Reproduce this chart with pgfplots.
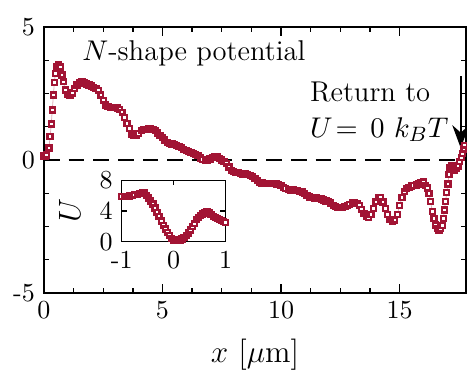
\documentclass[border=0pt]{standalone}
\usepackage{pgfplots}
\pgfplotsset{compat=1.18}
\usepackage{pgfplotstable}
\usetikzlibrary{calc,arrows.meta}
\definecolor{crim}{RGB}{162,20,52}

\pgfplotstableread{
x y
0.00 0.15
0.05 0.12
0.10 0.19
0.21 0.45
0.26 0.88
0.31 1.35
0.35 1.88
0.40 2.44
0.44 2.92
0.48 3.26
0.55 3.50
0.62 3.57
0.70 3.50
0.76 3.20
0.82 2.94
0.90 2.63
1.00 2.46
1.10 2.44
1.20 2.52
1.30 2.70
1.40 2.82
1.50 2.92
1.60 2.95
1.70 2.90
1.80 2.86
1.90 2.82
2.00 2.78
2.10 2.74
2.20 2.70
2.30 2.62
2.40 2.45
2.50 2.25
2.60 2.07
2.70 2.00
2.80 1.98
2.90 1.98
3.00 1.97
3.10 1.96
3.20 1.90
3.30 1.80
3.40 1.60
3.50 1.38
3.60 1.18
3.70 0.98
3.80 0.92
3.90 0.93
4.00 1.00
4.10 1.10
4.20 1.14
4.30 1.16
4.40 1.18
4.50 1.18
4.60 1.15
4.70 1.10
4.80 1.02
4.90 0.92
5.00 0.85
5.10 0.75
5.20 0.65
5.30 0.62
5.40 0.60
5.50 0.58
5.60 0.55
5.70 0.52
5.80 0.46
5.90 0.40
6.00 0.36
6.10 0.32
6.20 0.28
6.30 0.24
6.40 0.20
6.50 0.16
6.60 0.08
6.70 0.02
6.80 0.00
6.90 0.00
7.00 0.04
7.10 0.10
7.20 0.14
7.30 0.12
7.40 0.06
7.50 0.00
7.60 -0.06
7.70 -0.14
7.80 -0.26
7.90 -0.38
8.00 -0.44
8.10 -0.46
8.20 -0.48
8.30 -0.50
8.40 -0.52
8.50 -0.53
8.60 -0.55
8.70 -0.58
8.80 -0.62
8.90 -0.70
9.00 -0.78
9.10 -0.84
9.20 -0.86
9.30 -0.87
9.40 -0.88
9.50 -0.88
9.60 -0.87
9.70 -0.88
9.80 -0.90
9.90 -0.92
10.00 -0.96
10.10 -1.02
10.20 -1.08
10.30 -1.12
10.40 -1.13
10.50 -1.13
10.60 -1.14
10.70 -1.15
10.80 -1.17
10.90 -1.20
11.00 -1.26
11.10 -1.33
11.20 -1.39
11.30 -1.42
11.40 -1.43
11.50 -1.43
11.60 -1.44
11.70 -1.46
11.80 -1.50
11.90 -1.54
12.00 -1.57
12.10 -1.62
12.20 -1.70
12.30 -1.76
12.40 -1.78
12.50 -1.78
12.60 -1.78
12.70 -1.76
12.80 -1.72
12.90 -1.66
13.00 -1.62
13.10 -1.60
13.20 -1.64
13.30 -1.72
13.40 -1.85
13.50 -2.00
13.60 -2.10
13.70 -2.15
13.80 -2.05
13.90 -1.82
14.00 -1.55
14.10 -1.40
14.20 -1.40
14.30 -1.58
14.40 -1.82
14.50 -2.05
14.60 -2.24
14.70 -2.32
14.80 -2.26
14.90 -2.05
15.00 -1.72
15.10 -1.40
15.20 -1.18
15.30 -1.08
15.40 -1.02
15.50 -0.98
15.60 -0.96
15.70 -0.94
15.80 -0.90
15.90 -0.84
16.00 -0.82
16.10 -0.95
16.17 -1.05
16.24 -1.25
16.31 -1.57
16.38 -1.94
16.45 -2.19
16.52 -2.44
16.59 -2.58
16.66 -2.63
16.73 -2.58
16.80 -2.45
16.85 -2.19
16.89 -1.88
16.94 -1.55
16.99 -1.22
17.04 -0.90
17.08 -0.55
17.12 -0.30
17.18 -0.20
17.25 -0.30
17.32 -0.38
17.40 -0.30
17.47 -0.22
17.53 -0.05
17.60 0.10
17.66 0.25
17.71 0.42
17.74 0.56
}\mainData

\pgfplotstableread{
x y
-1.00 5.85
-0.95 5.88
-0.90 5.92
-0.85 5.96
-0.80 6.02
-0.75 6.10
-0.70 6.18
-0.65 6.30
-0.60 6.40
-0.56 6.32
-0.52 6.05
-0.48 5.70
-0.44 5.30
-0.40 4.90
-0.36 4.40
-0.32 3.80
-0.28 3.25
-0.24 2.70
-0.20 2.15
-0.16 1.65
-0.12 1.20
-0.08 0.80
-0.04 0.45
0.00 0.25
0.04 0.15
0.08 0.15
0.12 0.22
0.16 0.38
0.20 0.60
0.24 0.85
0.28 1.15
0.32 1.55
0.36 1.95
0.40 2.40
0.44 2.85
0.48 3.15
0.52 3.40
0.56 3.60
0.60 3.80
0.64 3.88
0.68 3.75
0.72 3.50
0.76 3.30
0.80 3.12
0.84 3.00
0.88 2.90
0.92 2.80
0.96 2.65
1.00 2.50
}\insetData

\begin{document}
\begin{tikzpicture}
\pgfplotsset{
  datastyle/.style={draw=crim!35, line width=0.3pt, mark=square*,
    mark size=0.95pt, mark options={draw=crim, fill=white, line width=0.9pt, solid}},
}
\begin{axis}[
  name=main,
  scale only axis,
  width=162.3pt, height=102.3pt,
  xmin=0, xmax=17.8, ymin=-5, ymax=5,
  xtick={0,5,10,15},
  ytick={-5,0,5}, yticklabels={-5,0,5},
  minor x tick num=3, minor y tick num=3,
  major tick length=3.3pt, minor tick length=2pt,
  axis line style={line width=0.5pt},
  every tick/.style={black, line width=0.5pt},
  tick label style={font=\normalsize},
  xlabel={$x$ [$\mu$m]},
  xlabel style={font=\large, yshift=-1pt},
]
\addplot[black, line width=0.6pt, dash pattern=on 6pt off 3.5pt] coordinates {(0,0) (17.8,0)};
\addplot[datastyle] table[x=x,y=y] {\mainData};
\node[anchor=base west, font=\fontsize{11}{13}\selectfont, inner sep=0pt] at (axis cs:1.6,3.76) {$N$-shape potential};
\node[anchor=base west, font=\fontsize{11}{13}\selectfont, inner sep=0pt] at (axis cs:11.2,2.19) {Return to};
\node[anchor=base west, font=\fontsize{11}{13}\selectfont, inner sep=0pt] at (axis cs:11.2,0.86) {$U\!=\,0\ k_BT$};
\draw[-{Stealth[length=8.8pt,width=6.5pt]}, line width=0.8pt] (axis cs:17.58,3.15) -- (axis cs:17.58,0.45);
\end{axis}
\begin{axis}[
  at={($(main.south west)+(29.9pt,19.7pt)$)}, anchor=south west,
  scale only axis,
  width=40pt, height=23.7pt,
  xmin=-1, xmax=1, ymin=0, ymax=8,
  xtick={-1,0,1}, xticklabels={-1,0,1},
  ytick={0,4,8},
  major tick length=2pt,
  axis line style={line width=0.5pt},
  every tick/.style={black, line width=0.5pt},
  axis background/.style={fill=white},
  tick label style={font=\normalsize},
  ylabel={$U$},
  every axis y label/.style={at={(axis description cs:-0.5,0.5)}, rotate=90, anchor=center, font=\large},
]
\addplot[datastyle] table[x=x,y=y] {\insetData};
\end{axis}
\pgfresetboundingbox
\path[use as bounding box] ($(main.south west)+(-16.9pt,-30.4pt)$) rectangle ($(main.north east)+(0.4pt,10.4pt)$);
\end{tikzpicture}
\end{document}
